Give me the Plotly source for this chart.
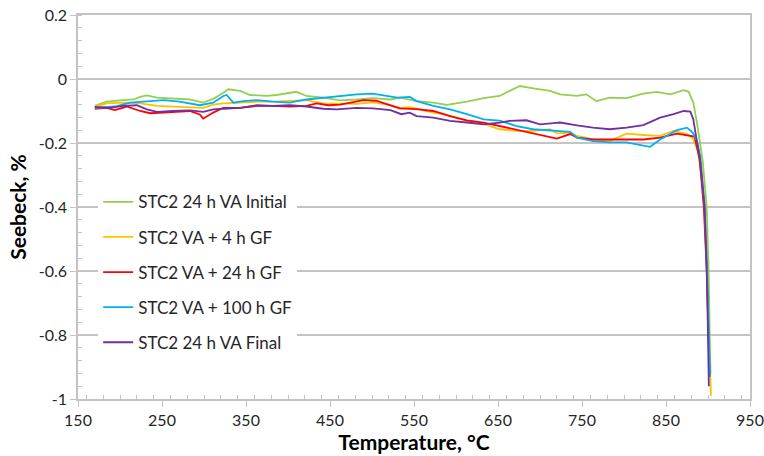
import plotly.graph_objects as go

names = ["STC2 24 h VA Initial", "STC2 VA + 4 h GF", "STC2 VA + 24 h GF",
         "STC2 VA + 100 h GF", "STC2 24 h VA Final"]
colors = ["#92D050", "#FFC000", "#FF0000", "#00B0F0", "#7030A0"]

initial_x = [170, 184, 204, 216, 224, 232, 244, 263, 283, 299, 311, 323, 329, 343, 355, 375, 386, 410,
             422, 442, 462, 482, 501, 522, 533, 553, 573, 589, 613, 633, 652, 664, 676, 692, 712, 724,
             744, 755, 767, 783, 803, 823, 839, 855, 871, 877, 882.5, 886.5, 890.5, 893.7, 898.4, 900.8,
             902, 903]
initial_y = [-0.084, -0.071, -0.066, -0.064, -0.056, -0.051, -0.058, -0.060, -0.064, -0.074, -0.062,
             -0.043, -0.032, -0.037, -0.050, -0.053, -0.050, -0.040, -0.053, -0.058, -0.067, -0.064,
             -0.060, -0.064, -0.058, -0.069, -0.074, -0.081, -0.071, -0.060, -0.053, -0.037, -0.022,
             -0.029, -0.037, -0.048, -0.053, -0.048, -0.069, -0.058, -0.060, -0.046, -0.040, -0.048,
             -0.035, -0.040, -0.074, -0.131, -0.204, -0.256, -0.40, -0.60, -0.80, -0.92]

gf4_x = [170, 184, 204, 224, 244, 263, 283, 299, 311, 323, 343, 363, 382, 402, 422, 442, 462, 482, 501,
         520, 533, 545, 573, 585, 613, 633, 652, 672, 692, 712, 720, 736, 744, 763, 783, 803, 823, 843,
         859, 875, 882, 888, 892, 896, 899, 901, 903.5]
gf4_y = [-0.087, -0.076, -0.074, -0.076, -0.084, -0.086, -0.090, -0.090, -0.080, -0.076, -0.074, -0.071,
         -0.071, -0.069, -0.066, -0.076, -0.077, -0.078, -0.073, -0.080, -0.090, -0.088, -0.105, -0.110,
         -0.131, -0.140, -0.157, -0.162, -0.162, -0.157, -0.170, -0.168, -0.178, -0.189, -0.194, -0.171,
         -0.175, -0.178, -0.162, -0.172, -0.185, -0.225, -0.30, -0.40, -0.60, -0.80, -0.99]

gf24_x = [170, 184, 194, 208, 224, 236, 252, 267, 283, 295, 299, 311, 323, 343, 363, 382, 402, 422, 434,
          448, 462, 490, 505, 520, 533, 553, 573, 593, 613, 633, 652, 672, 692, 712, 720, 736, 744, 763,
          783, 803, 823, 843, 863, 878, 884, 890, 895, 898.5, 900.5, 902]
gf24_y = [-0.093, -0.090, -0.097, -0.086, -0.100, -0.107, -0.105, -0.103, -0.100, -0.111, -0.124, -0.105,
          -0.090, -0.090, -0.084, -0.084, -0.086, -0.084, -0.076, -0.082, -0.080, -0.066, -0.068, -0.081,
          -0.092, -0.094, -0.100, -0.116, -0.129, -0.136, -0.147, -0.157, -0.168, -0.181, -0.186, -0.172,
          -0.183, -0.189, -0.190, -0.189, -0.189, -0.183, -0.171, -0.176, -0.180, -0.250, -0.40, -0.60,
          -0.80, -0.93]

gf100_x = [170, 184, 194, 212, 232, 252, 271, 295, 311, 323, 327, 335, 347, 363, 382, 402, 422, 442, 462,
           482, 501, 513, 530, 545, 553, 573, 593, 613, 633, 652, 672, 692, 712, 736, 744, 763, 783, 803,
           831, 843, 863, 875, 882, 887, 891, 896, 899, 901, 902.5]
gf100_y = [-0.090, -0.088, -0.086, -0.074, -0.069, -0.066, -0.071, -0.082, -0.074, -0.053, -0.050, -0.074,
           -0.069, -0.066, -0.071, -0.074, -0.064, -0.058, -0.053, -0.048, -0.046, -0.050, -0.058, -0.056,
           -0.069, -0.084, -0.095, -0.110, -0.126, -0.130, -0.147, -0.157, -0.160, -0.165, -0.183, -0.194,
           -0.198, -0.198, -0.212, -0.189, -0.160, -0.152, -0.168, -0.196, -0.246, -0.40, -0.60, -0.80,
           -0.93]

final_x = [170, 188, 204, 220, 232, 244, 263, 283, 299, 311, 323, 343, 363, 382, 402, 422, 442, 458, 482,
           501, 522, 535, 545, 553, 573, 593, 613, 633, 652, 664, 684, 700, 716, 724, 744, 763, 783, 803,
           823, 843, 859, 871, 879, 882.5, 886.5, 890.5, 896, 898.5, 900, 901]
final_y = [-0.087, -0.090, -0.084, -0.082, -0.095, -0.103, -0.100, -0.098, -0.103, -0.095, -0.093, -0.090,
           -0.082, -0.084, -0.082, -0.086, -0.093, -0.095, -0.090, -0.092, -0.097, -0.110, -0.105, -0.116,
           -0.121, -0.131, -0.136, -0.142, -0.136, -0.131, -0.129, -0.142, -0.138, -0.136, -0.145, -0.152,
           -0.157, -0.152, -0.144, -0.121, -0.110, -0.100, -0.102, -0.126, -0.190, -0.250, -0.40, -0.60,
           -0.80, -0.96]

xs = [initial_x, gf4_x, gf24_x, gf100_x, final_x]
ys = [initial_y, gf4_y, gf24_y, gf100_y, final_y]

x_ticks = [150, 250, 350, 450, 550, 650, 750, 850, 950]
y_ticks = [-1, -0.8, -0.6, -0.4, -0.2, 0, 0.2]
y_tick_labels = ["-1", "-0.8", "-0.6", "-0.4", "-0.2", "0", "0.2"]

fig = go.Figure()
for i in range(5):
    fig.add_trace(go.Scatter(x=xs[i], y=ys[i], mode="lines", name=names[i],
                             legendgroup=str(i),
                             line=dict(color=colors[i], width=1.8)))

font_family = "Lato, 'Open Sans', sans-serif"
grid_col = "#C4C4C4"
fig.update_layout(
    width=764, height=456,
    margin=dict(l=78, r=14, t=15, b=57),
    paper_bgcolor="white", plot_bgcolor="white",
    font=dict(family=font_family, size=16, color="#262626"),
    showlegend=True,
    legend=dict(x=0.03, y=0.33, xanchor="left", yanchor="middle",
                bgcolor="white", font=dict(size=17, color="#262626"),
                traceorder="grouped", tracegroupgap=10, itemwidth=30),
    xaxis=dict(range=[150, 950], tickvals=x_ticks, ticktext=[str(v) for v in x_ticks],
               automargin=False,
               showgrid=False, showline=True, linecolor=grid_col, linewidth=1.5, mirror=True,
               ticks="outside", ticklen=6, tickcolor=grid_col, tickwidth=1,
               minor=dict(dtick=20, ticks="inside", ticklen=4, tickcolor=grid_col, showgrid=False),
               zeroline=False,
               title=dict(text="<b>Temperature, °C</b>", font=dict(size=21, color="#000000"), standoff=4)),
    yaxis=dict(range=[-1, 0.2], tickvals=y_ticks, ticktext=y_tick_labels,
               automargin=False,
               showgrid=True, gridcolor=grid_col, gridwidth=1.5,
               showline=True, linecolor=grid_col, linewidth=1.5, mirror=True,
               ticks="outside", ticklen=6, tickcolor=grid_col, tickwidth=1,
               minor=dict(dtick=0.04, tick0=0, ticks="inside", ticklen=4, tickcolor=grid_col, showgrid=False),
               zeroline=False,
               title=dict(text="<b>Seebeck, %</b>", font=dict(size=21, color="#000000"), standoff=6)),
)

fig.write_html("out.html")
